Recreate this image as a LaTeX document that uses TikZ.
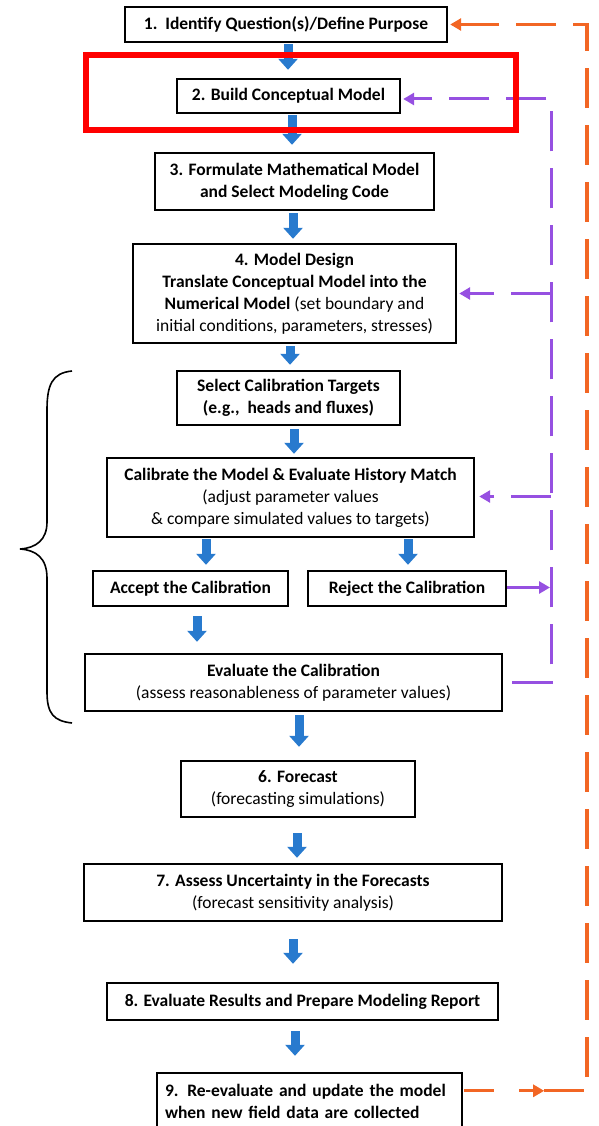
\documentclass[tikz,border=0pt]{standalone}
\usepackage{fontspec}
\setmainfont{Carlito}
\usetikzlibrary{arrows.meta,calc}
\definecolor{flowblue}{RGB}{40,122,206}
\definecolor{loopviolet}{RGB}{150,80,225}
\definecolor{looporange}{RGB}{242,102,36}
\definecolor{markred}{RGB}{255,0,0}

% block arrow between two stages: from, to, x shift, start gap, end gap
\newcommand\stagearrow[5]{%
  \draw[flow] ($(#1.south)+(#3,#4)$) coordinate (tmp) -- ($(tmp |- #2.north)+(0,-#5)$);}

\begin{document}
\begin{tikzpicture}[x=1pt,y=-1pt,
  stage/.style={draw=black, line width=2.4pt, fill=white, align=center,
    font=\fontsize{17.5}{22}\selectfont, inner sep=0pt},
  flow/.style={draw=flowblue, line width=9pt, -{Triangle[width=19pt,length=11pt]}},
  violetloop/.style={draw=loopviolet, line width=3pt, dash pattern=on 40pt off 17pt,
    -{Triangle[width=12pt,length=11pt]}},
  orangeloop/.style={draw=looporange, line width=3.2pt, dash pattern=on 40pt off 17pt,
    -{Triangle[width=12pt,length=11pt]}},
]
\useasboundingbox (0,0) rectangle (598,1126);
\clip (0,0) rectangle (598,1126);

% stages
\node[stage, minimum width=322pt, minimum height=35pt] (b1) at (286,24.5)
  {\textbf{1.\ \ Identify Question(s)/Define Purpose}};
\node[stage, minimum width=223pt, minimum height=34pt] (b2) at (288.5,96)
  {\textbf{2. Build Conceptual Model}};
\node[stage, minimum width=279pt, minimum height=57pt] (b3) at (294.5,181.5)
  {\textbf{3. Formulate Mathematical Model}\\\textbf{and Select Modeling Code}};
\node[stage, minimum width=323pt, minimum height=99pt] (b4) at (294.5,293.5)
  {\textbf{4. Model Design}\\\textbf{Translate Conceptual Model into the}\\
   \textbf{Numerical Model} (set boundary and\\initial conditions, parameters, stresses)};
\node[stage, minimum width=223pt, minimum height=54pt] (bs) at (288.5,398)
  {\textbf{Select Calibration Targets}\\\textbf{(e.g.,\ \ heads and fluxes)}};
\node[stage, minimum width=367pt, minimum height=79pt] (bc) at (290.5,497.5)
  {\textbf{Calibrate the Model \& Evaluate History Match}\\(adjust parameter values\\
   \& compare simulated values to targets)};
\node[stage, minimum width=195pt, minimum height=35pt] (ba) at (190.5,588.5)
  {\textbf{Accept the Calibration}};
\node[stage, minimum width=198pt, minimum height=35pt] (br) at (407,588.5)
  {\textbf{Reject the Calibration}};
\node[stage, minimum width=417pt, minimum height=57pt] (be) at (293.5,682.5)
  {\textbf{Evaluate the Calibration}\\(assess reasonableness of parameter values)};
\node[stage, minimum width=234pt, minimum height=56pt] (bf) at (298,789)
  {\textbf{6. Forecast}\\(forecasting simulations)};
\node[stage, minimum width=418pt, minimum height=57pt] (bu) at (293,892.5)
  {\textbf{7. Assess Uncertainty in the Forecasts}\\(forecast sensitivity analysis)};
\node[stage, minimum width=391pt, minimum height=37pt] (b8) at (302.5,1001.5)
  {\textbf{8. Evaluate Results and Prepare Modeling Report}};
\node[stage, minimum width=305pt, minimum height=57pt, text width=289pt,
  inner xsep=8pt, align=left] (b9) at (309.5,1101.5)
  {\textbf{9. Re-evaluate and update the model}\\\textbf{when new field data are collected}};

% main flow
\stagearrow{b1}{b2}{2}{1}{8}
\stagearrow{b2}{b3}{3.5}{1}{7}
\stagearrow{b3}{b4}{-1.5}{2}{4}
\stagearrow{b4}{bs}{-4.5}{2}{5}
\stagearrow{bs}{bc}{5.5}{3}{3}
\stagearrow{bc}{ba}{-84.5}{1}{5}
\stagearrow{bc}{br}{117.5}{1}{5}
\stagearrow{ba}{be}{6.5}{9}{11}
\stagearrow{be}{bf}{5.5}{3}{13}
\stagearrow{bf}{bu}{-1}{15}{5}
\stagearrow{bu}{b8}{0}{17}{18}
\stagearrow{b8}{b9}{-7.5}{10}{16}

% calibration bracket
\draw[black, line width=1.6pt]
  (72,371) .. controls (52,373) and (47,385) .. (47,410) -- (47,522)
  .. controls (47,540) and (36,548) .. (20,549)
  .. controls (36,550) and (47,558) .. (47,578) -- (47,692)
  .. controls (47,714) and (54,721) .. (72,723);

% feedback to earlier stages
\coordinate (pv) at (551,0);
\draw[violetloop] ($(be.east)+(9,0)$) -- (pv |- be.east) -- ($(pv |- b2.east)+(0,3)$)
  -- ($(b2.east)+(2,3)$);
\draw[violetloop] (pv |- b4.east) -- ($(b4.east)+(2,0)$);
\draw[violetloop] ($(pv |- bc.east)+(0,-1)$) -- ($(bc.east)+(4,-1)$);
\draw[draw=loopviolet, line width=3pt, -{Triangle[width=12pt,length=11pt]}]
  ($(br.east)+(0,-1)$) -- ($(pv |- br.east)+(-1,-1)$);

% update loop back to the question
\coordinate (ov) at (587,0);
\coordinate (om) at ($(b9.north east)+(81,19)$);
\draw[draw=looporange, line width=3.2pt, dash pattern=on 30pt off 25pt,
  -{Triangle[width=12pt,length=11pt]}] ($(b9.north east)+(1,19)$) -- (om);
\draw[orangeloop] (om) -- (ov |- om) -- (ov |- b1.east) -- ($(b1.east)+(2,0)$);

% highlight frame
\draw[markred, line width=6pt] (86,55) rectangle (516,130);
\end{tikzpicture}
\end{document}
